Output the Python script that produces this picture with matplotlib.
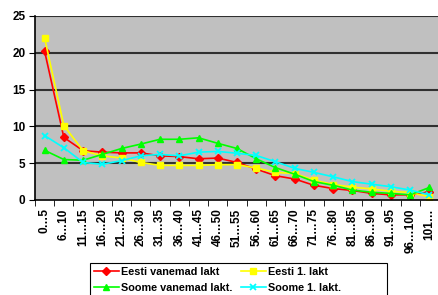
import numpy as np
import matplotlib
matplotlib.use("Agg")
import matplotlib.pyplot as plt
from matplotlib.patches import Rectangle

plt.rcParams['font.family'] = ['Liberation Sans', 'DejaVu Sans']
plt.rcParams['font.weight'] = 'bold'

kategooriad = ['0…5', '6…10', '11…15', '16…20', '21…25', '26…30', '31…35', '36…40',
               '41…45', '46…50', '51…55', '56…60', '61…65', '66…70', '71…75', '76…80',
               '81…85', '86…90', '91…95', '96…100', '101…']
eesti_vanemad = [20.2, 8.5, 6.7, 6.5, 6.4, 6.4, 6.0, 5.9, 5.6, 5.7, 5.1, 4.2, 3.3, 2.85,
                 2.0, 1.55, 1.3, 0.9, 0.7, 0.7, 1.1]
eesti_1 = [22.0, 10.1, 6.7, 6.0, 5.7, 5.1, 4.7, 4.7, 4.7, 4.8, 4.8, 4.35, 3.75, 3.6,
           2.7, 2.1, 1.75, 1.5, 1.2, 1.0, 0.45]
soome_vanemad = [6.75, 5.5, 5.4, 6.2, 7.0, 7.6, 8.25, 8.25, 8.45, 7.7, 7.0, 5.6, 4.4, 3.5,
                 2.5, 2.0, 1.35, 1.05, 0.9, 0.7, 1.7]
soome_1 = [8.75, 7.1, 5.1, 4.85, 5.35, 6.0, 6.2, 6.0, 6.5, 6.6, 6.35, 6.05, 5.2, 4.3,
           3.75, 3.15, 2.5, 2.15, 1.8, 1.35, 0.7]

fig = plt.figure(figsize=(4.39, 2.95), dpi=100)
ax = fig.add_axes([35 / 439, 1 - 200 / 295, 1 - 35 / 439, 184 / 295])
ax.set_facecolor('#C0C0C0')

x = np.arange(len(kategooriad))
l1, = ax.plot(x, eesti_vanemad, color='#FF0000', lw=1.2, marker='D', ms=3.8, label='Eesti vanemad lakt')
l2, = ax.plot(x, eesti_1, color='#FFFF00', lw=1.2, marker='s', ms=4.3, label='Eesti 1. lakt')
l3, = ax.plot(x, soome_vanemad, color='#00FF00', lw=1.2, marker='^', ms=4.8, label='Soome vanemad lakt.')
l4, = ax.plot(x, soome_1, color='#00FFFF', lw=1.2, marker='x', ms=4.8, mew=1.3, label='Soome 1. lakt.')

ax.set_xlim(-0.5, len(kategooriad) - 0.5)
ax.set_ylim(0, 25)
ax.set_yticks([0, 5, 10, 15, 20, 25])
for v in [5, 10, 15, 20, 25]:
    ax.axhline(v, color='#303030', lw=1.5, zorder=1)
ax.set_xticks(x)
ax.set_xticklabels(kategooriad, rotation=90)
ax.set_xticks(x - 0.5, minor=True)
ax.tick_params(axis='x', which='major', length=0, pad=6, labelsize=8.5)
ax.tick_params(axis='x', which='minor', length=4, direction='out', color='black')
ax.tick_params(axis='y', length=4, direction='out', labelsize=8.5, pad=3)
for s in ['top', 'right']:
    ax.spines[s].set_visible(False)
ax.spines['left'].set_color('black')
ax.spines['bottom'].set_color('black')
ax.spines['left'].set_linewidth(1.2)
ax.spines['bottom'].set_linewidth(1.2)

# legendi raam käsitsi, sest Exceli raam on laiem kui tekst
fig.patches.append(Rectangle((90 / 439, -0.05), 297 / 439, 0.05 + 32 / 295,
                             transform=fig.transFigure, facecolor='white',
                             edgecolor='black', lw=0.8, zorder=0))

# rea kaupa järjestus nagu Exceli legendis
leg = fig.legend([l1, l3, l2, l4], [l1.get_label(), l3.get_label(), l2.get_label(), l4.get_label()],
                 loc='upper left', bbox_to_anchor=(90 / 439, 1 - 263 / 295), ncol=2,
                 fontsize=7.8, frameon=False,
                 handlelength=2.3, columnspacing=0.8, handletextpad=0.2,
                 borderpad=0.35, labelspacing=0.55, borderaxespad=0)

fig.savefig('out.png', dpi=100)
